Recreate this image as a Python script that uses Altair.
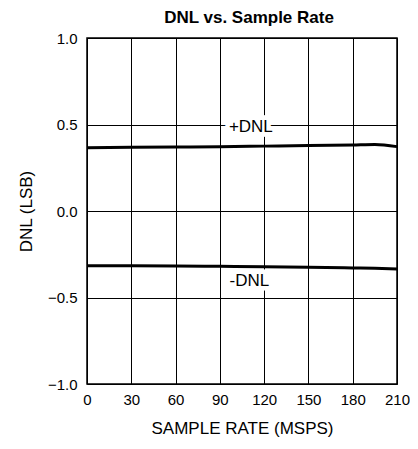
import altair as alt
import pandas as pd

rate = [0, 30, 60, 90, 120, 150, 180, 195, 210]
dnl_pos = [0.366, 0.368, 0.370, 0.372, 0.375, 0.378, 0.382, 0.385, 0.372]
dnl_neg = [-0.316, -0.317, -0.318, -0.320, -0.322, -0.325, -0.329, -0.331, -0.335]

label_text = ["+DNL", "-DNL"]
label_x = [111, 110]
label_y = [0.483, -0.402]

x_ticks = [0, 30, 60, 90, 120, 150, 180, 210]
y_ticks = [-1.0, -0.5, 0.0, 0.5, 1.0]

lines = pd.DataFrame({
    "rate": rate * 2,
    "dnl": dnl_pos + dnl_neg,
    "series": ["+DNL"] * len(rate) + ["-DNL"] * len(rate),
})
labels = pd.DataFrame({"rate": label_x, "dnl": label_y, "text": label_text})

FONT = "Liberation Sans"

x_enc = alt.X("rate:Q", scale=alt.Scale(domain=[0, 210], nice=False),
              axis=alt.Axis(values=x_ticks, title="SAMPLE RATE (MSPS)", format="d",
                            grid=True, ticks=False, domain=False, labelPadding=8,
                            titlePadding=13, labelFlush=False))
y_enc = alt.Y("dnl:Q", scale=alt.Scale(domain=[-1, 1], nice=False),
              axis=alt.Axis(values=y_ticks, title="DNL (LSB)", format=".1f",
                            grid=True, ticks=False, domain=False, labelPadding=10,
                            titlePadding=12, labelFlush=False))

line = alt.Chart(lines).mark_line(color="black", strokeWidth=3, interpolate="monotone").encode(
    x=x_enc, y=y_enc, detail="series:N")

halo = alt.Chart(labels).mark_text(font=FONT, fontSize=17, stroke="white", strokeWidth=9,
                                   strokeJoin="miter", fill="white").encode(
    x="rate:Q", y="dnl:Q", text="text:N")
txt = alt.Chart(labels).mark_text(font=FONT, fontSize=17, color="black").encode(
    x="rate:Q", y="dnl:Q", text="text:N")

chart = alt.layer(line, halo, txt).properties(
    width=310, height=346,
    background="white",
    title=alt.TitleParams("DNL vs. Sample Rate", font=FONT, fontSize=17, fontWeight="bold",
                          anchor="middle", offset=4, dx=7, color="black"),
    autosize=alt.AutoSizeParams(type="none"),
    padding={"left": 79, "top": 30, "right": 13, "bottom": 57},
).configure_view(stroke="black", strokeWidth=1.5).configure_axis(
    gridColor="black", gridOpacity=1, gridWidth=1,
    labelFont=FONT, labelFontSize=15, labelColor="black",
    titleFont=FONT, titleFontSize=17, titleFontWeight="normal", titleColor="black",
)

chart.save("out.html", embed_options={"renderer": "svg", "actions": False})
